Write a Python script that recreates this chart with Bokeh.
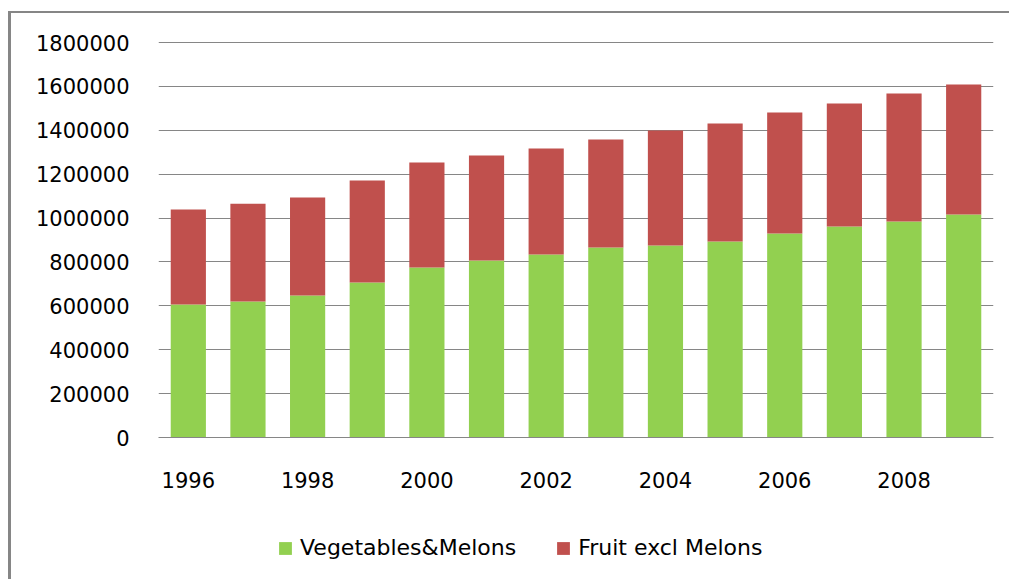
from bokeh.plotting import figure
from bokeh.layouts import column
from bokeh.models import ColumnDataSource, FixedTicker, BasicTickFormatter, Range1d, Legend, LegendItem
from bokeh.embed import file_html
from bokeh.resources import INLINE

years = [1996, 1997, 1998, 1999, 2000, 2001, 2002, 2003, 2004, 2005, 2006, 2007, 2008, 2009]
vegetables_melons = [606000, 620000, 647000, 706000, 775000, 807000, 834000, 866000,
                     875000, 893000, 930000, 962000, 985000, 1016000]
fruit_excl_melons = [433000, 446000, 447000, 465000, 478000, 478000, 483000, 492000,
                     524000, 538000, 551000, 560000, 583000, 593000]
x_ticks = [1996, 1998, 2000, 2002, 2004, 2006, 2008]
y_ticks = [0, 200000, 400000, 600000, 800000, 1000000, 1200000, 1400000, 1600000, 1800000]
series_names = ["Vegetables&Melons", "Fruit excl Melons"]
colors = ["#92D050", "#C0504D"]

source = ColumnDataSource(dict(year=years, veg=vegetables_melons, fruit=fruit_excl_melons))

FONT = "DejaVu Sans"
GRAY = "#868686"

p = figure(width=998, height=500, output_backend="svg", toolbar_location=None,
           x_range=Range1d(1995.5, 2009.5), y_range=Range1d(0, 1805000),
           min_border_left=147, min_border_right=16, min_border_top=28, min_border_bottom=76)
p.outline_line_color = None
p.background_fill_color = "white"
p.border_fill_color = "white"

renderers = p.vbar_stack(["veg", "fruit"], x="year", width=0.59, color=colors,
                         line_color=None, source=source)

# axes
p.xaxis.ticker = FixedTicker(ticks=x_ticks)
p.yaxis.ticker = FixedTicker(ticks=y_ticks)
p.yaxis.formatter = BasicTickFormatter(use_scientific=False)
for ax in (p.xaxis[0], p.yaxis[0]):
    ax.major_tick_line_color = None
    ax.minor_tick_line_color = None
    ax.major_label_text_font = FONT
    ax.major_label_text_font_size = "21px"
    ax.major_label_text_color = "#000000"
p.xaxis.axis_line_color = GRAY
p.xaxis.axis_line_width = 1
p.xaxis.major_label_standoff = 28
p.yaxis.axis_line_color = None
p.yaxis.major_label_standoff = 23

p.xgrid.grid_line_color = None
p.ygrid.ticker = FixedTicker(ticks=y_ticks)
p.ygrid.grid_line_color = GRAY
p.ygrid.grid_line_width = 1

# legend strip (a second figure without axes, so the legend is not clipped)
lg = figure(width=998, height=66, output_backend="svg", toolbar_location=None,
            x_range=Range1d(0, 1), y_range=Range1d(0, 1),
            min_border_left=0, min_border_right=0, min_border_top=0, min_border_bottom=0)
lg.axis.visible = False
lg.grid.visible = False
lg.outline_line_color = None
lg.background_fill_color = "white"
lg.border_fill_color = "white"
# swatch renderers: zero-height bars, only used for the legend swatches
swatch = ColumnDataSource(dict(x=[0.5], top=[0]))
r_veg = lg.vbar(x="x", top="top", bottom=0, width=0.01, color=colors[0], line_color=None, source=swatch)
r_fruit = lg.vbar(x="x", top="top", bottom=0, width=0.01, color=colors[1], line_color=None, source=swatch)

legend = Legend(items=[LegendItem(label=series_names[0], renderers=[r_veg]),
                       LegendItem(label=series_names[1], renderers=[r_fruit])],
                orientation="horizontal", location=(119, 19),
                padding=0, margin=0, spacing=39, label_standoff=7,
                glyph_width=16, glyph_height=16,
                label_text_font=FONT, label_text_font_size="22px",
                label_text_color="#000000",
                border_line_color=None, background_fill_alpha=0)
lg.add_layout(legend, "center")

layout = column(p, lg, spacing=0)
layout.styles = {"border-left": "3px solid " + GRAY, "border-top": "2px solid " + GRAY,
                 "margin-top": "11px", "margin-left": "8px"}

open("out.html", "w").write(file_html(layout, INLINE))
